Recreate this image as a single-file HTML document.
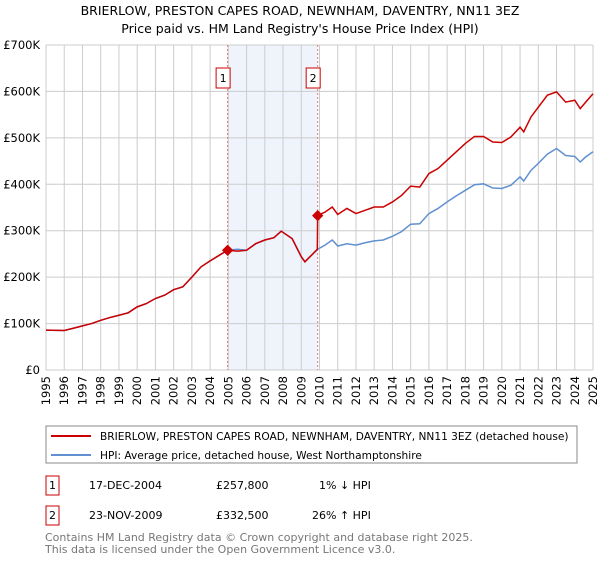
<!DOCTYPE html>
<html><head><meta charset="utf-8"><style>
body{margin:0;background:#fff;font-family:"Liberation Sans","DejaVu Sans",sans-serif;}
svg text{font-family:"DejaVu Sans","Liberation Sans",sans-serif;}
</style></head><body>
<svg id="chart" width="600" height="560" xmlns="http://www.w3.org/2000/svg">
<text x="300" y="15" text-anchor="middle" font-size="12.5" fill="#000">BRIERLOW, PRESTON CAPES ROAD, NEWNHAM, DAVENTRY, NN11 3EZ</text>
<text x="300" y="33" text-anchor="middle" font-size="12.5" fill="#000">Price paid vs. HM Land Registry's House Price Index (HPI)</text>
<g id="grid"></g><g id="marks"></g>
<rect x="46" y="426" width="531" height="37" fill="#fff" stroke="#888"/>
<line x1="51" y1="436" x2="91" y2="436" stroke="#cc0000" stroke-width="2"/>
<text x="100" y="440" font-size="10.6">BRIERLOW, PRESTON CAPES ROAD, NEWNHAM, DAVENTRY, NN11 3EZ (detached house)</text>
<line x1="51" y1="455" x2="91" y2="455" stroke="#6090d0" stroke-width="2"/>
<text x="100" y="459" font-size="10.6">HPI: Average price, detached house, West Northamptonshire</text>
<g font-size="11">
<rect x="46" y="476" width="13" height="19" fill="#fff" stroke="#cc0000"/><text x="52.5" y="489" text-anchor="middle">1</text>
<text x="89" y="489">17-DEC-2004</text><text x="216" y="489">£257,800</text><text x="319" y="489">1% ↓ HPI</text></g>
<g font-size="11">
<rect x="46" y="506" width="13" height="19" fill="#fff" stroke="#cc0000"/><text x="52.5" y="519" text-anchor="middle">2</text>
<text x="89" y="519">23-NOV-2009</text><text x="216" y="519">£332,500</text><text x="312" y="519">26% ↑ HPI</text></g>
<text x="45" y="541" font-size="11" fill="#777">Contains HM Land Registry data © Crown copyright and database right 2025.</text>
<text x="45" y="553" font-size="11" fill="#777">This data is licensed under the Open Government Licence v3.0.</text>
</svg>
<script>
const hpiYears=[1995,1996,1996.5,1997,1997.5,1998,1998.5,1999,1999.5,2000,2000.5,2001,2001.5,2002,2002.5,2003,2003.5,2004,2004.5,2004.96,2005.5,2006,2006.5,2007,2007.5,2007.9,2008.5,2009,2009.2,2009.9,2010.3,2010.7,2011,2011.5,2012,2012.5,2013,2013.5,2014,2014.5,2015,2015.5,2016,2016.5,2017,2017.5,2018,2018.5,2019,2019.5,2020,2020.5,2021,2021.2,2021.6,2022,2022.5,2023,2023.5,2024,2024.3,2024.6,2025];
const hpiValues=[86,85,90,95,100,107,113,118,123,136,143,154,161,173,179,200,222,235,247,258,260,258,272,280,285,299,283,244,233,260,269,280,267,272,269,274,278,280,288,298,314,315,337,348,362,375,387,399,401,392,391,398,416,407,430,445,465,477,462,460,448,459,470];
const redYears=[1995,1996,1996.5,1997,1997.5,1998,1998.5,1999,1999.5,2000,2000.5,2001,2001.5,2002,2002.5,2003,2003.5,2004,2004.5,2004.96,2005.5,2006,2006.5,2007,2007.5,2007.9,2008.5,2009,2009.2,2009.88,2009.9,2010.3,2010.7,2011,2011.5,2012,2012.5,2013,2013.5,2014,2014.5,2015,2015.5,2016,2016.5,2017,2017.5,2018,2018.5,2019,2019.5,2020,2020.5,2021,2021.2,2021.6,2022,2022.5,2023,2023.5,2024,2024.3,2024.6,2025];
const redValues=[86,85,90,95,100,107,113,118,123,136,143,154,161,173,179,200,222,235,247,258,256,258,272,280,285,299,283,244,233,260,333,340,351,335,348,337,344,351,351,362,376,396,394,423,434,452,470,488,503,503,491,490,502,523,513,545,566,592,599,577,581,563,577,595];
const saleYears=[2004.96,2009.9];
const saleValues=[257.8,332.5];
const saleLabels=["1","2"];
const yTicks=[0,100,200,300,400,500,600,700];
const yTickLabels=["£0","£100K","£200K","£300K","£400K","£500K","£600K","£700K"];
const xTicks=[1995,1996,1997,1998,1999,2000,2001,2002,2003,2004,2005,2006,2007,2008,2009,2010,2011,2012,2013,2014,2015,2016,2017,2018,2019,2020,2021,2022,2023,2024,2025];
const X0=46,X1=593,Y0=370,Y1=45;
const xs=y=>X0+(y-1995)/30*(X1-X0);
const ys=v=>Y0-v/700*(Y0-Y1);
const NS="http://www.w3.org/2000/svg";
function mk(parent,tag,attrs){const e=document.createElementNS(NS,tag);for(const k in attrs)e.setAttribute(k,attrs[k]);parent.appendChild(e);return e;}
const grid=document.getElementById('grid'),marks=document.getElementById('marks');
const shade=mk(grid,'rect',{x:xs(saleYears[0]),y:Y1,width:xs(saleYears[1])-xs(saleYears[0]),height:Y0-Y1,fill:'#eef3fc'});


xTicks.forEach(t=>{
 mk(grid,'line',{x1:xs(t),x2:xs(t),y1:Y1,y2:Y0,stroke:'#cccccc','stroke-width':1});
 const tx=mk(grid,'text',{x:0,y:0,'font-size':11.5,'text-anchor':'end',transform:`translate(${xs(t)+4},${Y0+6}) rotate(-90)`});
 tx.textContent=t;
 
 
});
yTicks.forEach((t,i)=>{
 mk(grid,'line',{x1:X0,x2:X1,y1:ys(t),y2:ys(t),stroke:'#cccccc','stroke-width':1});
 const tx=mk(grid,'text',{x:X0-6,y:ys(t)+4,'font-size':11.5,'text-anchor':'end'});
 tx.textContent=yTickLabels[i];
 
 
});
saleYears.forEach((s,i)=>{
 mk(marks,'line',{x1:xs(s),x2:xs(s),y1:Y1,y2:Y0,stroke:'#ee7777','stroke-width':1,'stroke-dasharray':'2,2'});
 const b=mk(marks,'rect',{x:xs(s)-11.5,y:68,width:14,height:20,fill:'#fff',stroke:'#cc0000'});
 
 
 const t=mk(marks,'text',{x:xs(s)-4.5,y:82,'font-size':11,'text-anchor':'middle'});
 t.textContent=saleLabels[i];
});
const hp=mk(marks,'polyline',{points:hpiYears.map((y,i)=>xs(y)+','+ys(hpiValues[i])).join(' '),fill:'none',stroke:'#6090d0','stroke-width':1.5});


const rp=mk(marks,'polyline',{points:redYears.map((y,i)=>xs(y)+','+ys(redValues[i])).join(' '),fill:'none',stroke:'#cc0000','stroke-width':1.5});


saleYears.forEach((s,i)=>{
 const d=mk(marks,'rect',{x:xs(s)-4,y:ys(saleValues[i])-4,width:8,height:8,fill:'#cc0000',transform:`rotate(45 ${xs(s)} ${ys(saleValues[i])})`});
 
 
});
</script>
</body></html>
